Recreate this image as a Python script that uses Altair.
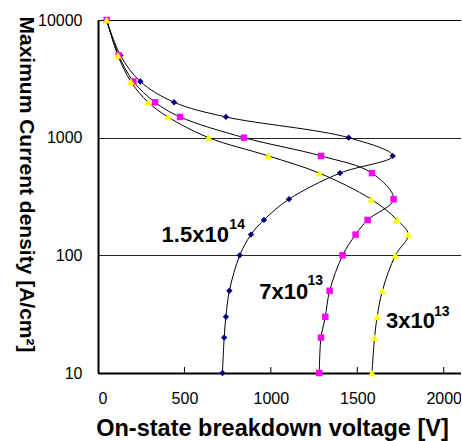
import altair as alt
import pandas as pd

# Current density levels (A/cm^2) shared by all three series, in drawing order
J_levels = [10000, 5000, 3000, 2000, 1500, 1000, 700, 500, 300, 200, 150, 100, 50, 30, 20, 10]

# On-state breakdown voltage (V) for each doping level
V_15e14 = [50, 130, 245, 440, 740, 1450, 1705, 1400, 1105, 960, 885, 820, 760, 740, 730, 720]
V_7e13 = [50, 120, 205, 330, 475, 845, 1290, 1585, 1710, 1560, 1490, 1415, 1340, 1315, 1290, 1280]
V_3e13 = [50, 115, 190, 290, 405, 640, 985, 1280, 1580, 1730, 1795, 1720, 1645, 1615, 1600, 1585]

series_names = ["1.5x10^14", "7x10^13", "3x10^13"]
series_V = [V_15e14, V_7e13, V_3e13]
series_colors = ["#000080", "#FF00FF", "#FFFF00"]
series_shapes = ["diamond", "square", "triangle-up"]
series_sizes = [40, 42, 60]

x_ticks = [0, 500, 1000, 1500, 2000]
y_ticks = [10, 100, 1000, 10000]
inner_ticks = [500, 1000, 1500, 2000]

# annotation labels (text, V, J, font size)
ann_text = ["1.5x10", "14", "7x10", "13", "3x10", "13"]
ann_V = [368, 760, 933, 1212, 1666, 1944]
ann_J = [129, 167, 42.8, 56.2, 24.1, 30.5]
ann_size = [22, 14, 22, 14, 22, 14]

rows = []
for name, vs in zip(series_names, series_V):
    for i, (v, j) in enumerate(zip(vs, J_levels)):
        rows.append({"series": name, "order": i, "V": v, "J": j})
df = pd.DataFrame(rows)

ann = pd.DataFrame({"text": ann_text, "V": ann_V, "J": ann_J, "size": ann_size})

FONT = "Liberation Sans"

xscale = alt.Scale(domain=[0, 2100], nice=False, zero=False)
yscale = alt.Scale(type="log", domain=[10, 10000], nice=False)

xaxis = alt.Axis(
    values=x_ticks, format="d", title="On-state breakdown voltage [V]", grid=False,
    ticks=False, tickSize=0, labelPadding=17, labelFontSize=16, labelFont=FONT,
    labelColor="black", domainColor="black", domainWidth=2,
    titleFont=FONT, titleFontSize=23.5, titleFontWeight="bold", titleColor="black",
    titleX=174, titleY=62, titleBaseline="alphabetic", titleAlign="center",
)
yaxis = alt.Axis(
    values=y_ticks, format="d", title="Maximum Current density [A/cm²]",
    grid=True, gridColor="black", gridWidth=1, gridOpacity=0.85,
    ticks=False, tickSize=0, labelPadding=16, labelFontSize=16, labelFont=FONT,
    labelColor="black", domainColor="black", domainWidth=2,
    titleFont=FONT, titleFontSize=21, titleFontWeight="bold", titleColor="black",
    titleAngle=90, titleX=-73, titleY=164, titleAlign="center", titleBaseline="middle",
)

base = alt.Chart(df)

lines = base.mark_line(color="black", strokeWidth=1, interpolate="catmull-rom").encode(
    x=alt.X("V:Q", scale=xscale, axis=xaxis),
    y=alt.Y("J:Q", scale=yscale, axis=yaxis),
    detail="series:N",
    order="order:Q",
)

layers = [lines]
for name, col, shp, sz in zip(series_names, series_colors, series_shapes, series_sizes):
    pts = alt.Chart(df[df.series == name]).mark_point(
        shape=shp, filled=True, color=col, size=sz, opacity=1
    ).encode(x=alt.X("V:Q", scale=xscale), y=alt.Y("J:Q", scale=yscale))
    layers.append(pts)

tick_df = pd.DataFrame({"t": inner_ticks})
tick_rules = alt.Chart(tick_df).mark_rule(color="black", strokeWidth=1).encode(
    x=alt.X("t:Q", scale=xscale), y=alt.value(353), y2=alt.value(347)
)
layers.append(tick_rules)

labels = alt.Chart(ann).mark_text(
    font=FONT, fontWeight="bold", align="left", baseline="alphabetic", color="black"
).encode(
    x=alt.X("V:Q", scale=xscale),
    y=alt.Y("J:Q", scale=yscale),
    text="text:N",
    size=alt.Size("size:Q", scale=None, legend=None),
)
layers.append(labels)

chart = alt.layer(*layers).properties(
    width=363, height=353,
    padding={"left": 98, "top": 20, "right": 0, "bottom": 68},
    autosize=alt.AutoSizeParams(type="none"),
    background="white",
).configure_view(stroke="black", strokeWidth=1)

chart.save("out.html", embed_options={"renderer": "svg", "actions": False})
